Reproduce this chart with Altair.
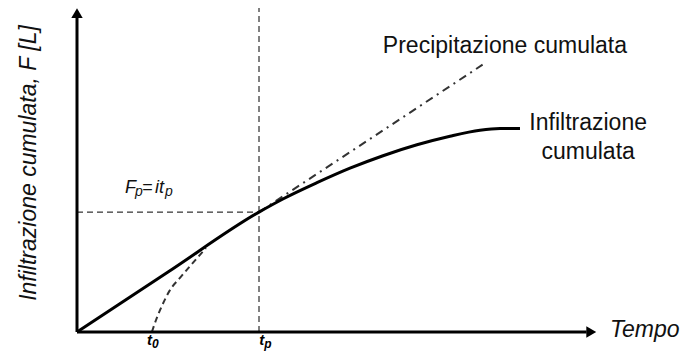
import altair as alt
import pandas as pd

# Cumulative infiltration curve (solid)
t_infil = [0, 1.75, 3.5, 3.96, 4.615, 5.25, 5.885, 6.538, 7.173, 7.75, 8.135, 8.519]
F_infil = [0, 1.85, 3.7, 4.105, 4.608, 5.056, 5.441, 5.778, 6.043, 6.228, 6.278, 6.278]

# Potential infiltration curve starting at t0 (dashed)
t_pot = [1.44, 1.52, 1.64, 1.79, 1.98, 2.21, 2.48]
F_pot = [0, 0.37, 0.83, 1.30, 1.67, 2.10, 2.59]

# Cumulative precipitation beyond ponding time (dash-dot)
t_prec = [3.5, 7.8]
F_prec = [3.7, 8.25]

# Ponding point
t0 = 1.44
tp = 3.5
Fp = 3.7

# Axis extents
t_max = 10
F_max = 10

FONT = "Liberation Sans"

xs = alt.Scale(domain=[0, t_max], nice=False, zero=False)
ys = alt.Scale(domain=[0, F_max], nice=False, zero=False)
X = alt.X("t:Q", scale=xs, axis=None)
Y = alt.Y("F:Q", scale=ys, axis=None)

infil = alt.Chart(pd.DataFrame({"t": t_infil, "F": F_infil})).mark_line(
    color="black", strokeWidth=3, interpolate="monotone"
).encode(x=X, y=Y, order="t:Q")

pot = alt.Chart(pd.DataFrame({"t": t_pot, "F": F_pot})).mark_line(
    color="#333333", strokeWidth=2, strokeDash=[6, 4], interpolate="monotone"
).encode(x=X, y=Y, order="t:Q")

prec = alt.Chart(pd.DataFrame({"t": t_prec, "F": F_prec})).mark_line(
    color="#333333", strokeWidth=2, strokeDash=[8, 5, 2, 5]
).encode(x=X, y=Y)

# Guide lines at ponding
guides = alt.Chart(pd.DataFrame({
    "t": [0, tp], "t2": [tp, tp], "F": [Fp, 0], "F2": [Fp, F_max]
})).mark_rule(color="black", strokeWidth=1, strokeDash=[6, 4]).encode(
    x=X, x2="t2:Q", y=Y, y2="F2:Q"
)

# Axes lines
axes = alt.Chart(pd.DataFrame({
    "t": [0, 0], "t2": [9.8, 0], "F": [0, 0], "F2": [0, 9.7]
})).mark_rule(color="black", strokeWidth=3).encode(
    x=X, x2="t2:Q", y=Y, y2="F2:Q"
)

arrow_up = alt.Chart(pd.DataFrame({"t": [0], "F": [9.84]})).mark_point(
    shape="triangle-up", filled=True, color="black", opacity=1, size=130
).encode(x=X, y=Y)

arrow_right = alt.Chart(pd.DataFrame({"t": [9.89], "F": [0]})).mark_point(
    shape="triangle-right", filled=True, color="black", opacity=1, size=130
).encode(x=X, y=Y)

# Labels
plain_labels = alt.Chart(pd.DataFrame({
    "t": [8.23, 9.83, 9.83],
    "F": [8.61, 6.23, 5.34],
    "txt": ["Precipitazione cumulata", "Infiltrazione", "cumulata"],
})).mark_text(font=FONT, fontSize=23, color="#111111", align="center",
              baseline="alphabetic").encode(x=X, y=Y, text="txt:N")

tempo = alt.Chart(pd.DataFrame({"t": [10.25], "F": [-0.154], "txt": ["Tempo"]})).mark_text(
    font=FONT, fontSize=23, fontStyle="italic", color="#111111", align="left",
    baseline="alphabetic"
).encode(x=X, y=Y, text="txt:N")

ytitle = alt.Chart(pd.DataFrame({"t": [-0.923], "F": [5.216],
                                 "txt": ["Infiltrazione cumulata, F [L]"]})).mark_text(
    font=FONT, fontSize=23, fontStyle="italic", color="#111111", align="center",
    baseline="middle", angle=270
).encode(x=X, y=Y, text="txt:N")

# F_p = i t_p label, composed of main text and subscripts
fp_main = alt.Chart(pd.DataFrame({"t": [0.923, 1.25, 1.50], "F": [4.29, 4.29, 4.29],
                                  "txt": ["F", "=", "it"]})).mark_text(
    font=FONT, fontSize=18, fontStyle="italic", color="#111111", align="left",
    baseline="alphabetic"
).encode(x=X, y=Y, text="txt:N")

fp_sub = alt.Chart(pd.DataFrame({"t": [1.115, 1.69], "F": [4.19, 4.19],
                                 "txt": ["p", "p"]})).mark_text(
    font=FONT, fontSize=14, fontStyle="italic", color="#111111", align="left",
    baseline="alphabetic"
).encode(x=X, y=Y, text="txt:N")

# t0 and tp tick labels
t_main = alt.Chart(pd.DataFrame({"t": [t0, 3.6], "F": [-0.40, -0.40],
                                 "txt": ["t", "t"]})).mark_text(
    font=FONT, fontSize=15, fontStyle="italic", fontWeight="bold", color="black",
    align="right", baseline="alphabetic"
).encode(x=X, y=Y, text="txt:N")

t_sub = alt.Chart(pd.DataFrame({"t": [t0, 3.6], "F": [-0.49, -0.49],
                                "txt": ["0", "p"]})).mark_text(
    font=FONT, fontSize=12, fontStyle="italic", fontWeight="bold", color="black",
    align="left", baseline="alphabetic"
).encode(x=X, y=Y, text="txt:N")

chart = alt.layer(
    guides, prec, pot, infil, axes, arrow_up, arrow_right,
    plain_labels, tempo, ytitle, fp_main, fp_sub, t_main, t_sub
).properties(
    width=520, height=324,
    padding={"left": 69, "top": 0, "right": 92, "bottom": 19},
    autosize=alt.AutoSizeParams(type="none"),
).configure_view(stroke=None)

chart.save("out.html", embed_options={"renderer": "svg", "actions": False})
